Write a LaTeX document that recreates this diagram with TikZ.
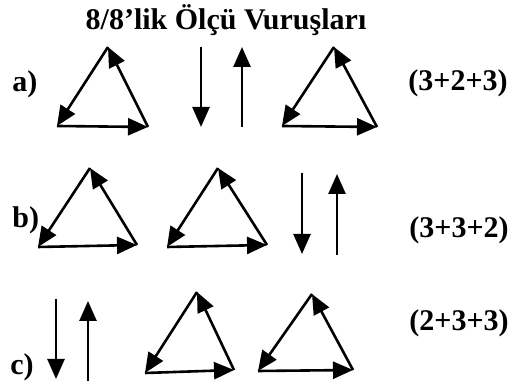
\documentclass[tikz,border=0pt]{standalone}
\usepackage{fontspec}
\setmainfont{Liberation Serif}
\usetikzlibrary{arrows.meta}

\begin{document}
\begin{tikzpicture}[
  x=0.5pt, y=-0.5pt,
  beat/.style={line width=1.3pt, -{Triangle[length=10pt,width=8.5pt]}},
  lbl/.style={font=\fontsize{15}{18}\selectfont\bfseries, inner sep=0pt}
]
\useasboundingbox (0,0) rectangle (508,383);
% title
\node[lbl, anchor=base] (title) at (226,30) {8/8’lik Ölçü Vuruşları};
% row labels
\node[lbl, anchor=base west] (la) at (12,92) {a)};
\node[lbl, anchor=base west] (lb) at (12,228) {b)};
\node[lbl, anchor=base west] (lc) at (10,375) {c)};
\node[lbl] (ga) at (458,83) {(3+2+3)};
\node[lbl] (gb) at (459,230) {(3+3+2)};
\node[lbl] (gc) at (459,323) {(2+3+3)};

% a) triangle, two-beat, triangle
\coordinate (a1t) at (108,47);  \coordinate (a1l) at (57,126);  \coordinate (a1r) at (148,127);
\coordinate (a2t) at (334,47);  \coordinate (a2l) at (282,126); \coordinate (a2r) at (377,127);
\coordinate (a3u) at (201,47);  \coordinate (a3d) at (201,127);
\coordinate (a4d) at (242,127); \coordinate (a4u) at (242,47);
\draw[beat] (a1t) -- (a1l);
\draw[beat] (a1l) -- (a1r);
\draw[beat] (a1r) -- (a1t);
\draw[beat] (a3u) -- (a3d);
\draw[beat] (a4d) -- (a4u);
\draw[beat] (a2t) -- (a2l);
\draw[beat] (a2l) -- (a2r);
\draw[beat] (a2r) -- (a2t);

% b) triangle, triangle, two-beat
\coordinate (b1t) at (90,168);  \coordinate (b1l) at (38,247);  \coordinate (b1r) at (137,245);
\coordinate (b2t) at (218,168); \coordinate (b2l) at (167,247); \coordinate (b2r) at (267,245);
\coordinate (b3u) at (302,173); \coordinate (b3d) at (302,254);
\coordinate (b4d) at (337,255); \coordinate (b4u) at (337,174);
\draw[beat] (b1t) -- (b1l);
\draw[beat] (b1l) -- (b1r);
\draw[beat] (b1r) -- (b1t);
\draw[beat] (b2t) -- (b2l);
\draw[beat] (b2l) -- (b2r);
\draw[beat] (b2r) -- (b2t);
\draw[beat] (b3u) -- (b3d);
\draw[beat] (b4d) -- (b4u);

% c) two-beat, triangle, triangle
\coordinate (c1u) at (56,299);  \coordinate (c1d) at (56,379);
\coordinate (c2d) at (88,381);  \coordinate (c2u) at (88,301);
\coordinate (c3t) at (197,292); \coordinate (c3l) at (145,373); \coordinate (c3r) at (234,370);
\coordinate (c4t) at (312,294); \coordinate (c4l) at (258,371); \coordinate (c4r) at (353,370);
\draw[beat] (c1u) -- (c1d);
\draw[beat] (c2d) -- (c2u);
\draw[beat] (c3t) -- (c3l);
\draw[beat] (c3l) -- (c3r);
\draw[beat] (c3r) -- (c3t);
\draw[beat] (c4t) -- (c4l);
\draw[beat] (c4l) -- (c4r);
\draw[beat] (c4r) -- (c4t);
\end{tikzpicture}
\end{document}
